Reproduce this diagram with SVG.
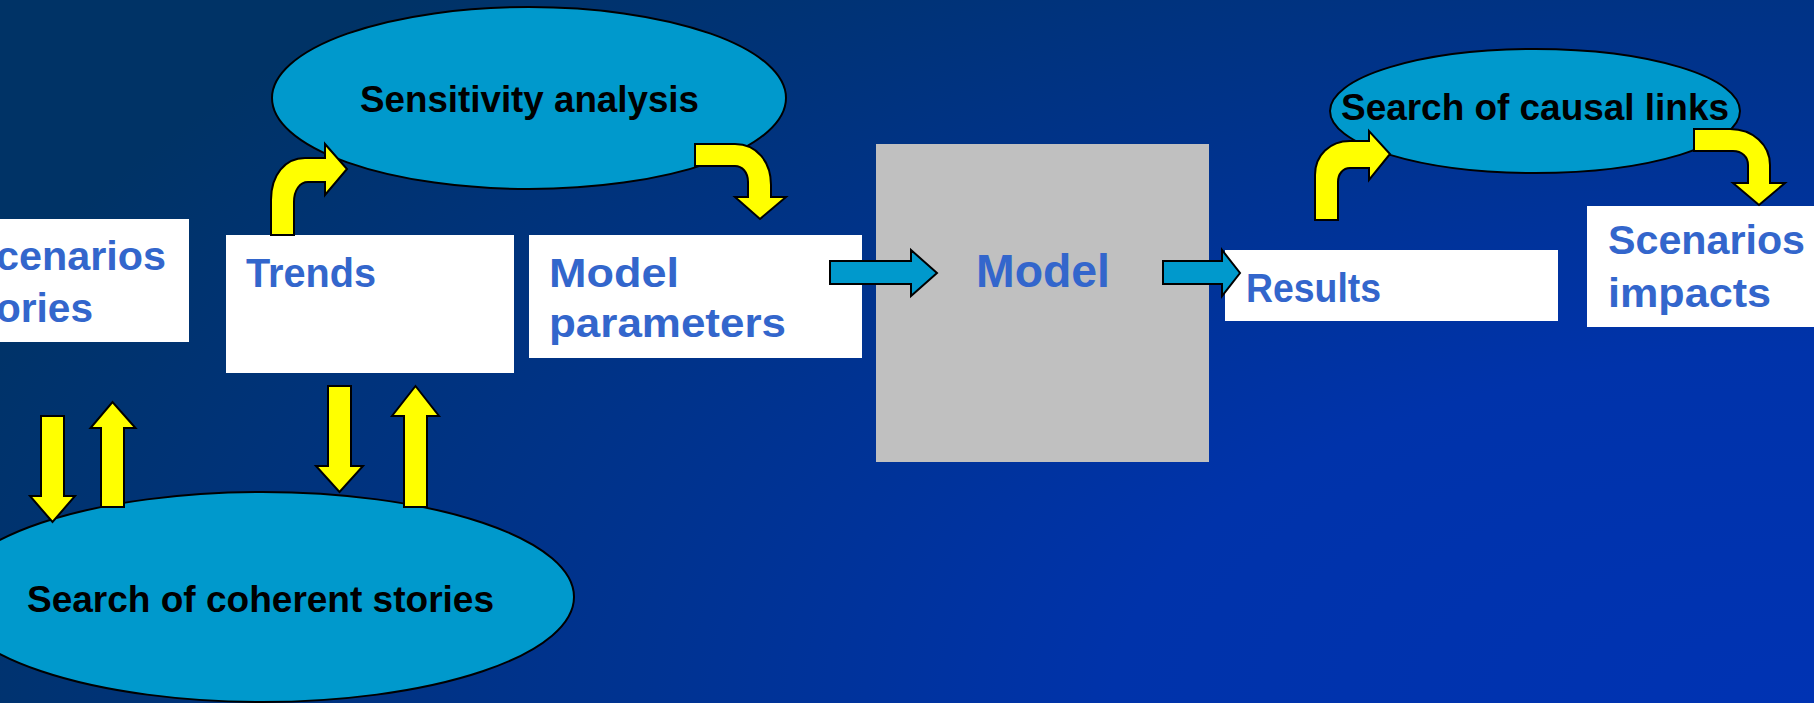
<svg xmlns="http://www.w3.org/2000/svg" width="1814" height="703" viewBox="0 0 1814 703">
  <defs>
    <!-- background: bright at the lower right, fading to navy towards the other corners -->
    <radialGradient id="bg" gradientUnits="userSpaceOnUse" cx="1814" cy="703" r="2000" gradientTransform="translate(1814 703) scale(1 0.5) translate(-1814 -703)">
      <stop offset="0" stop-color="#0033B3"/>
      <stop offset="0.35" stop-color="#0033AA"/>
      <stop offset="1" stop-color="#003366"/>
    </radialGradient>
    <style>
      .box { fill: #FFFFFF; }
      .model { fill: #C0C0C0; }
      .oval { fill: #0099CC; stroke: #000000; stroke-width: 2; }
      .boxtext { font-family: "Liberation Sans", Arial, sans-serif; font-weight: bold; font-size: 40px; fill: #3366CC; }
      .ovaltext { font-family: "Liberation Sans", Arial, sans-serif; font-weight: bold; font-size: 36px; fill: #000000; }
      .yellow { fill: #FFFF00; stroke: #000000; stroke-width: 2; stroke-linejoin: miter; }
      .blue { fill: #0099CC; stroke: #000000; stroke-width: 2; stroke-linejoin: miter; }
    </style>
  </defs>

  <rect x="0" y="0" width="1814" height="703" fill="url(#bg)"/>

  <!-- ovals -->
  <g id="sensitivity-analysis">
    <ellipse class="oval" cx="529" cy="98" rx="257" ry="91"/>
    <text class="ovaltext" x="360" y="112" textLength="339" lengthAdjust="spacingAndGlyphs">Sensitivity analysis</text>
  </g>

  <g id="coherent-stories">
    <ellipse class="oval" cx="262" cy="597" rx="312" ry="105"/>
    <text class="ovaltext" x="27" y="612" textLength="467" lengthAdjust="spacingAndGlyphs">Search of coherent stories</text>
  </g>

  <g id="causal-links">
    <ellipse class="oval" cx="1535" cy="111" rx="205" ry="62"/>
    <text class="ovaltext" x="1341" y="120" textLength="388" lengthAdjust="spacingAndGlyphs">Search of causal links</text>
  </g>

  <!-- boxes -->
  <g id="scenarios-stories">
    <rect class="box" x="0" y="219" width="189" height="123"/>
    <text class="boxtext" x="-4" y="270" textLength="170" lengthAdjust="spacingAndGlyphs">cenarios</text>
    <text class="boxtext" x="-4" y="322" textLength="97" lengthAdjust="spacingAndGlyphs">ories</text>
  </g>

  <g id="trends">
    <rect class="box" x="226" y="235" width="288" height="138"/>
    <text class="boxtext" x="246" y="287" textLength="130" lengthAdjust="spacingAndGlyphs">Trends</text>
  </g>

  <g id="model-parameters">
    <rect class="box" x="529" y="235" width="333" height="123"/>
    <text class="boxtext" x="549" y="287" textLength="130" lengthAdjust="spacingAndGlyphs">Model</text>
    <text class="boxtext" x="549" y="337" textLength="237" lengthAdjust="spacingAndGlyphs">parameters</text>
  </g>

  <g id="model">
    <rect class="model" x="876" y="144" width="333" height="318"/>
    <text class="boxtext" x="976" y="287" font-size="46" style="font-size:46px" textLength="134" lengthAdjust="spacingAndGlyphs">Model</text>
  </g>

  <g id="results">
    <rect class="box" x="1225" y="250" width="333" height="71"/>
    <text class="boxtext" x="1246" y="302" textLength="135" lengthAdjust="spacingAndGlyphs">Results</text>
  </g>

  <g id="scenarios-impacts">
    <rect class="box" x="1587" y="206" width="227" height="121"/>
    <text class="boxtext" x="1608" y="254" textLength="197" lengthAdjust="spacingAndGlyphs">Scenarios</text>
    <text class="boxtext" x="1608" y="307" textLength="163" lengthAdjust="spacingAndGlyphs">impacts</text>
  </g>

  <!-- connectors -->
  <g id="connectors">
    <!-- stories <-> coherent stories -->
    <path class="yellow" d="M41,416 L64,416 L64,496 L75,496 L52.5,522 L30,496 L41,496 Z"/>
    <path class="yellow" d="M101,507 L101,428 L90.5,428 L112.5,402 L135.5,428 L124,428 L124,507 Z"/>
    <!-- trends <-> coherent stories -->
    <path class="yellow" d="M328,386 L351,386 L351,466 L363,466 L339.5,492 L316,466 L328,466 Z"/>
    <path class="yellow" d="M404,507 L404,416 L392,416 L415.5,386 L439,416 L427,416 L427,507 Z"/>
    <!-- trends -> sensitivity analysis -->
    <path class="yellow" d="M271,235 L271,200 C271,175 285,158 305,158 L325,158 L325,144 L347,169 L325,195 L325,182 L308,182 C300,182 294,190 294,202 L294,235 Z"/>
    <!-- sensitivity analysis -> model parameters -->
    <path class="yellow" d="M695,144 L735,144 C757,144 771,162 771,185 L771,197 L786,197 L760,219 L735,197 L748,197 L748,182 C748,172 742,166 735,166 L695,166 Z"/>
    <!-- model parameters -> model -> results -->
    <path class="blue" d="M830,261 L911,261 L911,250 L937,273 L911,296 L911,284 L830,284 Z"/>
    <path class="blue" d="M1163,261 L1222,261 L1222,250 L1240,273 L1222,296 L1222,284 L1163,284 Z"/>
    <!-- results -> causal links -->
    <path class="yellow" d="M1315,220 L1315,175 C1315,155 1330,141 1350,141 L1369,141 L1369,131 L1390,154 L1369,180 L1369,168 L1350,168 C1343,168 1338,174 1338,182 L1338,220 Z"/>
    <!-- causal links -> scenarios impacts -->
    <path class="yellow" d="M1694,129 L1730,129 C1753,129 1770,145 1770,165 L1770,183 L1785,183 L1759,205 L1733,183 L1748,183 L1748,165 C1748,157 1742,151 1733,151 L1694,151 Z"/>
  </g>
</svg>
